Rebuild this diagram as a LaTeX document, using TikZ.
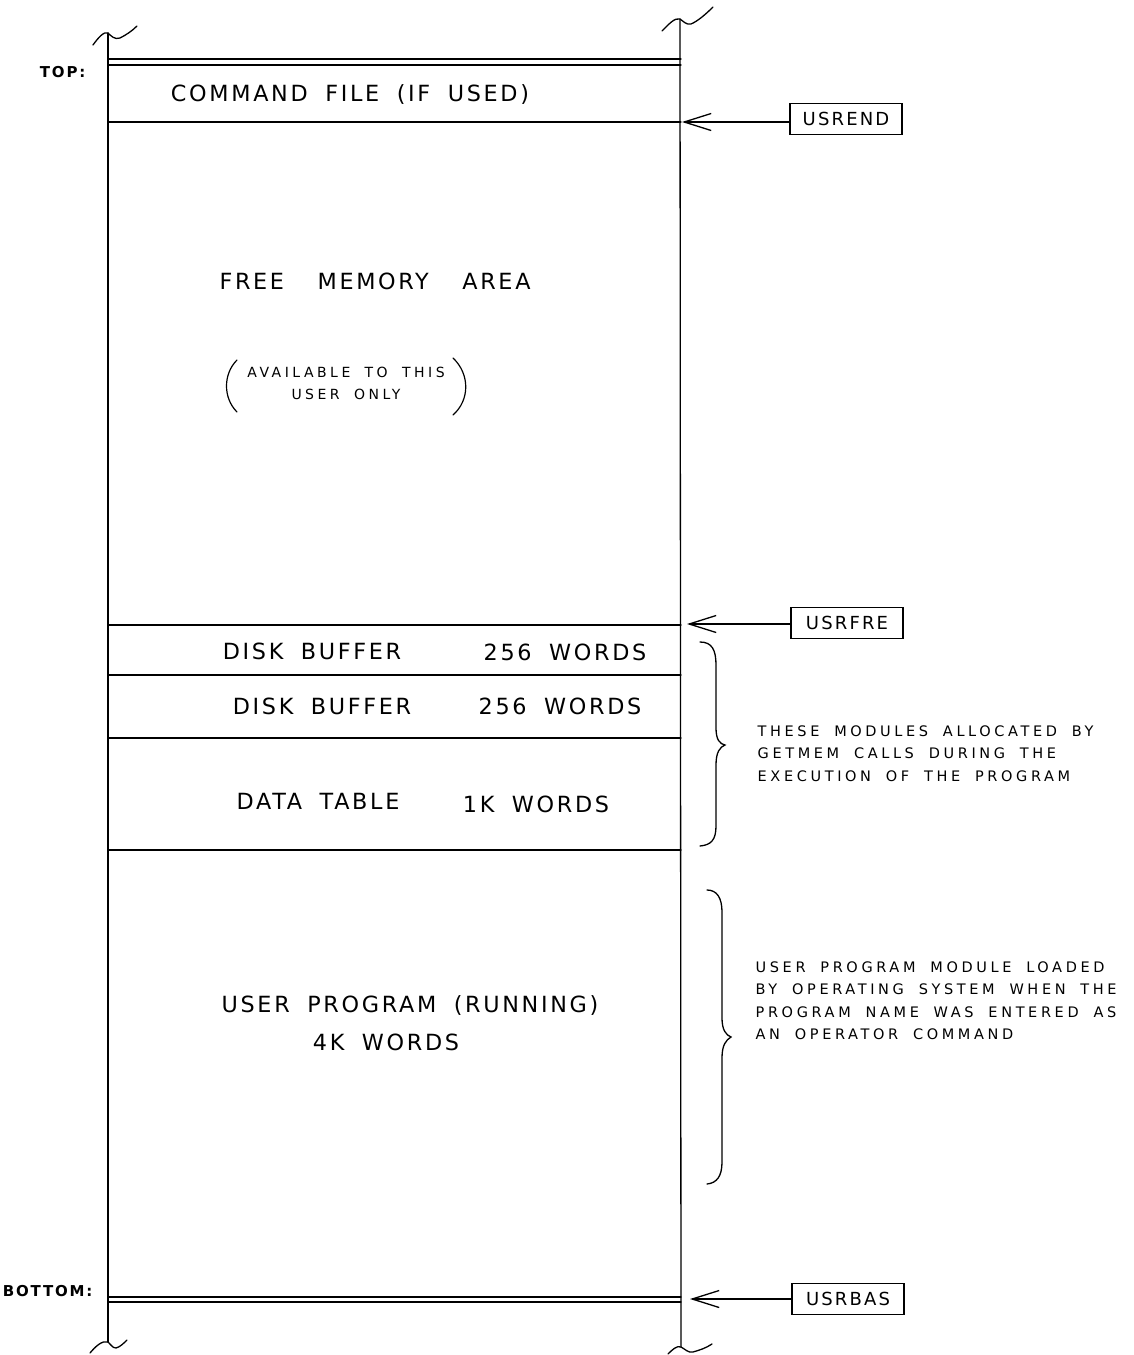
\documentclass[tikz,border=0pt]{standalone}
\usepackage{fontspec}
\setmainfont{DejaVu Sans}
\newfontfamily\hand[LetterSpace=12,WordSpace=1.8]{DejaVu Sans}
\newfontfamily\handw[LetterSpace=25,WordSpace=1.8]{DejaVu Sans}
\usetikzlibrary{arrows.meta}
\begin{document}
\begin{tikzpicture}[x=1pt,y=-1pt,line width=1.3pt,line cap=round,
  lbl/.style={font=\hand\fontsize{22.3}{26}\selectfont,inner sep=0pt},
  small/.style={font=\handw\fontsize{14}{22}\selectfont,inner sep=0pt,align=center},
  note/.style={font=\handw\fontsize{14.5}{22.5}\selectfont,align=left,inner sep=0pt,anchor=north west},
  ptr/.style={draw,line width=1.3pt,font=\hand\fontsize{18}{20}\selectfont,minimum width=112pt,minimum height=31pt,inner sep=0pt},
  arr/.style={-{Straight Barb[length=27pt,width=17pt,line width=1.3pt]},line width=1.3pt},
  side/.style={font=\hand\bfseries\fontsize{15}{17}\selectfont,inner sep=0pt,anchor=east}]
\useasboundingbox (0,0) rectangle (1134,1355);
% walls
\coordinate (LT) at (108,33); \coordinate (LB) at (108,1342);
\coordinate (RT) at (680,19); \coordinate (RB) at (681,1347);
\draw (LT) -- (LB);
\draw (RT) -- (RB);
% break squiggles
\draw (93,45) .. controls (98,38) and (104,31) .. (108,33) .. controls (111,36) and (115,40) .. (120,38) .. controls (126,35) and (132,31) .. (137,26);
\draw (662,31) .. controls (668,25) and (675,17) .. (680,19) .. controls (683,21) and (686,25) .. (691,24) .. controls (698,21) and (706,14) .. (713,7);
\draw (90,1353) .. controls (95,1347) and (102,1340) .. (108,1342) .. controls (111,1344) and (112,1348) .. (116,1348) .. controls (120,1347) and (124,1343) .. (127,1340);
\draw (668,1354) .. controls (672,1350) and (677,1345) .. (681,1347) .. controls (685,1349) and (688,1353) .. (693,1352) .. controls (700,1350) and (706,1348) .. (712,1344);
% dividers
\coordinate (d1a) at (108,59);   \coordinate (e1a) at (681,59);
\coordinate (d1b) at (108,65);   \coordinate (e1b) at (681,65);
\coordinate (d2) at (108,122);   \coordinate (e2) at (681,122);
\coordinate (d3) at (108,625);   \coordinate (e3) at (681,625);
\coordinate (d4) at (108,675);   \coordinate (e4) at (681,675);
\coordinate (d5) at (108,738);   \coordinate (e5) at (681,738);
\coordinate (d6) at (108,850);   \coordinate (e6) at (681,850);
\coordinate (d7a) at (108,1297); \coordinate (e7a) at (681,1297);
\coordinate (d7b) at (108,1302); \coordinate (e7b) at (681,1302);
\foreach \a/\b in {d1a/e1a,d1b/e1b,d2/e2,d3/e3,d4/e4,d5/e5,d6/e6,d7a/e7a,d7b/e7b}
  \draw (\a) -- (\b);
% side labels
\node[side] (top) at (86,72) {TOP:};
\node[side] (bottom) at (93,1291) {BOTTOM:};
% region texts
\node[lbl] (cmd) at (350,95) {COMMAND FILE (IF USED)};
\node[lbl] (free) at (375,281) {FREE\hspace{16pt} MEMORY\hspace{16pt} AREA};
\node[small] (avail) at (346,383) {AVAILABLE TO THIS\\USER ONLY};
\draw[line width=1.2pt] (237,360) .. controls (223,374) and (223,398) .. (237,412);
\draw[line width=1.2pt] (453,358) .. controls (470,374) and (470,400) .. (453,415);
\node[lbl] (db1) at (312,651) {DISK BUFFER};
\node[lbl] (w1) at (565,652) {256 WORDS};
\node[lbl] (db2) at (322,706) {DISK BUFFER};
\node[lbl] (w2) at (560,706) {256 WORDS};
\node[lbl] (dt) at (318,801) {DATA TABLE};
\node[lbl] (w3) at (536,804) {1K WORDS};
\node[lbl] (up) at (410,1005) {USER PROGRAM (RUNNING)};
\node[lbl] (w4) at (386,1042) {4K WORDS};
% pointer boxes
\node[ptr] (usrend) at (846,119) {USREND};
\node[ptr] (usrfre) at (847,623) {USRFRE};
\node[ptr] (usrbas) at (848,1299) {USRBAS};
\coordinate (p1) at (682,122);
\coordinate (p2) at (687,624);
\coordinate (p3) at (690,1299);
\draw[arr] (usrend.west |- p1) -- (p1);
\draw[arr] (usrfre.west |- p2) -- (p2);
\draw[arr] (usrbas.west |- p3) -- (p3);
% braces
\draw (700,642) .. controls (712,642) and (716,650) .. (716,665) -- (716,728)
  .. controls (716,740) and (720,744) .. (725,745)
  .. controls (720,747) and (716,752) .. (716,765) -- (716,826)
  .. controls (716,840) and (711,845) .. (700,846);
\draw (707,890) .. controls (717,890) and (722,898) .. (722,912) -- (722,1018)
  .. controls (722,1030) and (726,1035) .. (731,1037)
  .. controls (726,1040) and (722,1045) .. (722,1058) -- (722,1162)
  .. controls (722,1176) and (717,1183) .. (707,1184);
% notes
\node[note] (n1) at (757,725) {THESE MODULES ALLOCATED BY\\GETMEM CALLS DURING THE\\EXECUTION OF THE PROGRAM};
\node[note] (n2) at (755,961) {USER PROGRAM MODULE LOADED\\BY OPERATING SYSTEM WHEN THE\\PROGRAM NAME WAS ENTERED AS\\AN OPERATOR COMMAND};
\end{tikzpicture}
\end{document}
